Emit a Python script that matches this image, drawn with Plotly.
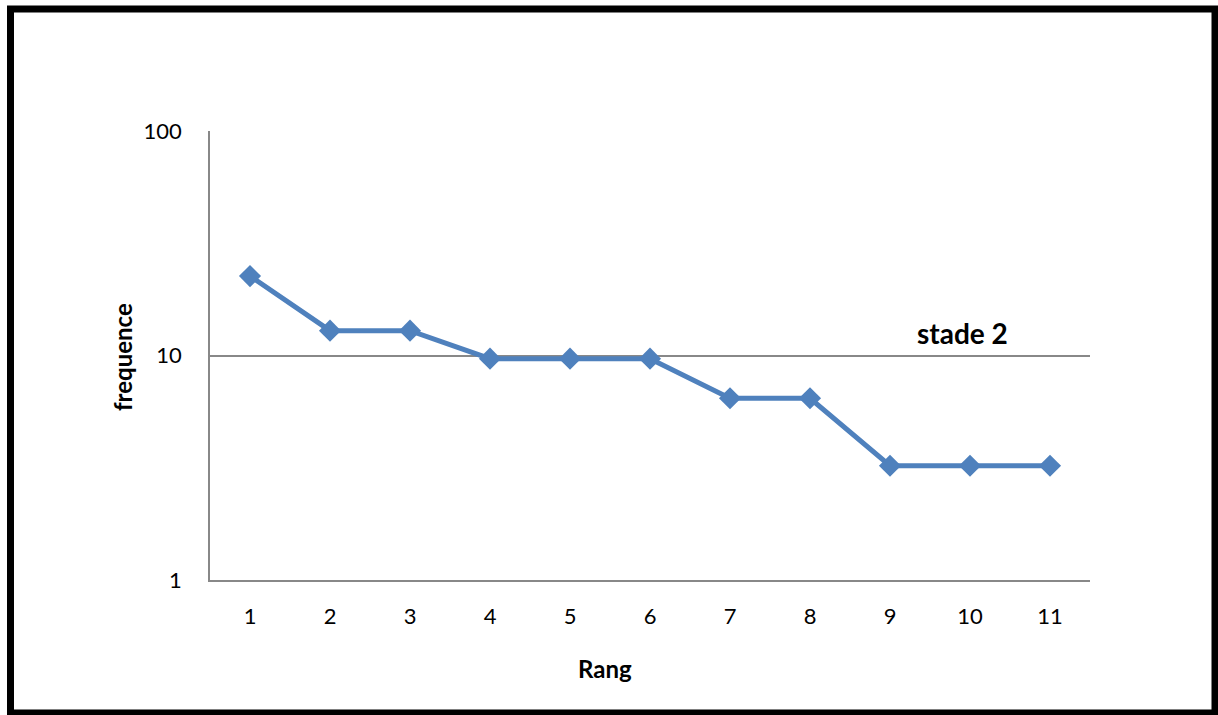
import plotly.graph_objects as go

# Rank-frequency data (percentages)
rang = [1, 2, 3, 4, 5, 6, 7, 8, 9, 10, 11]
frequence = [22.58, 12.90, 12.90, 9.68, 9.68, 9.68, 6.45, 6.45, 3.23, 3.23, 3.23]
y_ticks = [1, 10, 100]

W, H = 1218, 715
L, R, T, B = 210, 1090, 131, 580  # plot area in pixels

FONT = "Lato, Carlito, Calibri, sans-serif"
BLUE = "#4F81BD"
GRID = "#888888"


def px_x(p):
    return (p - L) / (R - L)


def px_y(p):
    return (B - p) / (B - T)


def label(text, x, y, size, angle=0):
    return dict(text=text, textangle=angle, x=px_x(x), y=px_y(y),
                xref="paper", yref="paper", xanchor="center", yanchor="middle",
                showarrow=False, font=dict(family=FONT, size=size))


fig = go.Figure()
fig.add_trace(go.Scatter(
    x=rang, y=frequence, mode="lines+markers",
    line=dict(color=BLUE, width=5),
    marker=dict(symbol="diamond", size=17, color=BLUE),
    showlegend=False, hoverinfo="x+y",
))

fig.update_layout(
    width=W, height=H,
    margin=dict(l=L, r=W - R, t=T, b=H - B, pad=0),
    paper_bgcolor="white", plot_bgcolor="white",
    font=dict(family=FONT, size=22, color="black"),
    xaxis=dict(
        range=[0.5, 11.5], tickvals=rang, ticktext=[str(v) for v in rang],
        showgrid=False, zeroline=False,
        showline=True, linecolor=GRID, linewidth=1.5,
        ticks="", ticklabelstandoff=16,
    ),
    yaxis=dict(
        type="log", range=[0, 2], tickvals=y_ticks,
        ticktext=[str(v) for v in y_ticks],
        showgrid=True, gridcolor=GRID, gridwidth=1.5,
        zeroline=False, showline=True, linecolor=GRID, linewidth=1.5,
        ticks="", ticklabelstandoff=22,
    ),
    annotations=[
        label("<b>frequence</b>", 122, 357, 24, angle=-90),
        label("<b>Rang</b>", 605, 668, 24),
        label("<b>stade 2</b>", 962, 333, 28),
    ],
    shapes=[
        dict(type="rect", xref="paper", yref="paper",
             x0=px_x(10.5), x1=px_x(1215), y0=px_y(9), y1=px_y(713),
             line=dict(color="black", width=7), fillcolor="rgba(0,0,0,0)",
             layer="above"),
    ],
)

fig.write_html("out.html")
